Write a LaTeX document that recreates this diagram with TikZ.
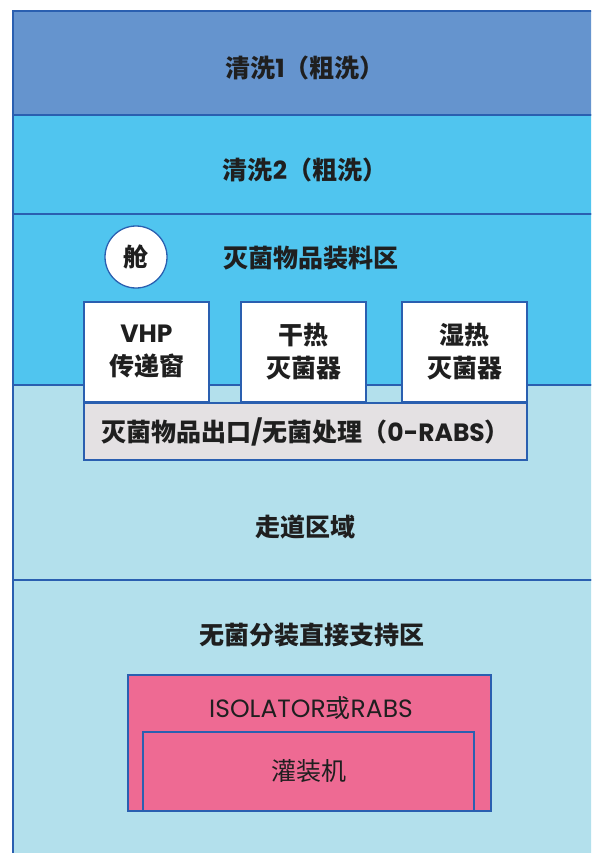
\documentclass[tikz,border=0pt]{standalone}
\usepackage{fontspec}
\setmainfont{Noto Sans CJK SC}
\newfontfamily\lat{Poppins}
\definecolor{bandA}{HTML}{6594CE}
\definecolor{bandB}{HTML}{50C5EF}
\definecolor{bandC}{HTML}{B3E0EC}
\definecolor{edge}{HTML}{2A5FB0}
\definecolor{pinkf}{HTML}{EE6A93}
\definecolor{grayf}{HTML}{E4E1E3}
\begin{document}
\begin{tikzpicture}[x=1pt,y=-1pt,
  band/.style={draw=edge,line width=1.6pt},
  lbl/.style={font=\fontsize{25}{30}\selectfont\bfseries,text=black!88,inner sep=0pt},
  whitebox/.style={draw=edge,line width=1.3pt,fill=white,minimum width=125pt,minimum height=100pt,align=center,
     font=\fontsize{25}{33}\selectfont\bfseries,text=black!88,inner sep=0pt},
  pinkbox/.style={draw=edge,line width=1.3pt,fill=pinkf,inner sep=0pt}]
\useasboundingbox (0,0) rectangle (591,853);
\fill[white] (0,0) rectangle (591,853);
\begin{scope}
\clip (0,0) rectangle (591,853);
\draw[band,fill=bandA] (13,11) rectangle (605,115);
\draw[band,fill=bandB] (13,115) rectangle (605,214);
\draw[band,fill=bandB] (13,214) rectangle (605,385);
\draw[band,fill=bandC] (13,385) rectangle (605,580);
\draw[band,fill=bandC] (13,580) rectangle (605,880);
\end{scope}
\node[lbl] (c1) at (305,68) {清洗{\lat 1}（粗洗）};
\node[lbl] (c2) at (305,170) {清洗{\lat 2}（粗洗）};
\node[lbl] (load) at (311,258) {灭菌物品装料区};
\node[circle,draw=edge,line width=1.3pt,fill=white,minimum size=62pt,inner sep=0pt,
  font=\fontsize{25}{30}\selectfont\bfseries,text=black!88] (cang) at (136,257) {舱};
\node[whitebox] (vhp) at (146.5,352) {{\lat VHP}\\传递窗};
\node[whitebox] (dry) at (303.5,352) {干热\\灭菌器};
\node[whitebox] (wet) at (464.5,352) {湿热\\灭菌器};
\node[draw=edge,line width=1.3pt,fill=grayf,minimum width=443pt,minimum height=57pt,inner sep=0pt,
  font=\fontsize{25}{30}\selectfont\bfseries,text=black!88] (exit) at (305.5,431.5) {灭菌物品出口{\lat/}无菌处理（{\lat 0-RABS}）};
\node[lbl] (walk) at (305,527) {走道区域};
\node[lbl] (sup) at (312,635) {无菌分装直接支持区};
\node[pinkbox,minimum width=363pt,minimum height=136pt] (iso) at (309.5,743) {};
\node[pinkbox,minimum width=331pt,minimum height=79pt,font=\fontsize{25}{30}\selectfont,text=black!88] (fill) at (308.5,771.5) {灌装机};
\node[font=\fontsize{25}{30}\selectfont,text=black!88,inner sep=0pt] (isot) at (311,708) {{\lat ISOLATOR}或{\lat RABS}};
\end{tikzpicture}
\end{document}
